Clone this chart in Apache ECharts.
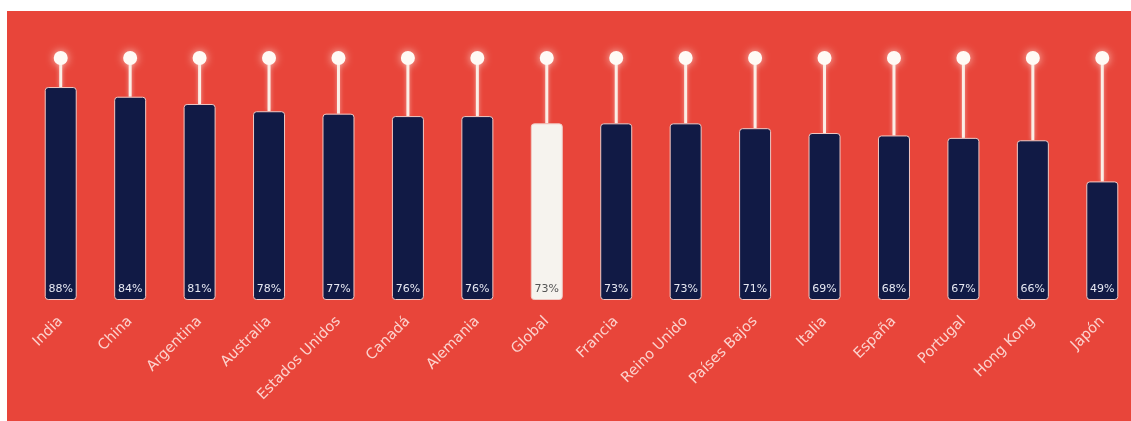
<!DOCTYPE html>
<html><head><meta charset="utf-8">
<script src="https://cdn.jsdelivr.net/npm/echarts@6/dist/echarts.min.js"></script>
<style>
html,body{margin:0;padding:0;background:#fff;width:1131px;height:421px;overflow:hidden;position:relative;}
#c{position:absolute;left:7px;top:11px;width:1140px;height:410px;}
</style></head>
<body><div id="c"></div>
<script>
var categories = ["India","China","Argentina","Australia","Estados Unidos","Canadá","Alemania","Global","Francia","Reino Unido","Países Bajos","Italia","España","Portugal","Hong Kong","Japón"];
var values = [88,84,81,78,77,76,76,73,73,73,71,69,68,67,66,49];
var highlight = "Global";
var maxValue = 100;

var chart = echarts.init(document.getElementById('c'));
var barData = values.map(function(v,i){
  var isG = categories[i] === highlight;
  return {
    value: v,
    itemStyle: { color: isG ? '#f6f3ee' : '#111a45' },
    label: { color: isG ? '#555' : '#e6e8f2' }
  };
});
var stickData = values.map(function(v,i){ return [i, v]; });

chart.setOption({
  backgroundColor: '#e8453a',
  animation: false,
  grid: { left: 19, top: 47, bottom: 121, width: 1111 },
  xAxis: {
    type: 'category', data: categories,
    axisLine: { show: false }, axisTick: { show: false },
    axisLabel: { rotate: 45, margin: 19, color: 'rgba(255,235,232,0.85)', fontFamily: 'DejaVu Sans', fontSize: 14.5, interval: 0 }
  },
  yAxis: { type: 'value', min: 0, max: maxValue, show: false, splitLine: { show: false } },
  series: [
    {
      type: 'custom',
      data: stickData,
      z: 1,
      renderItem: function(params, api){
        var idx = api.value(0), v = api.value(1);
        var p0 = api.coord([idx, v]);
        var p1 = api.coord([idx, maxValue]);
        return {
          type: 'group',
          children: [
            { type: 'line', shape: { x1: p0[0], y1: p0[1], x2: p1[0], y2: p1[1] },
              style: { stroke: '#fbeee6', lineWidth: 3, shadowBlur: 4, shadowColor: 'rgba(255,255,255,0.5)' } },
            { type: 'circle', shape: { cx: p1[0], cy: p1[1], r: 7 },
              style: { fill: '#fffaf5', shadowBlur: 8, shadowColor: 'rgba(255,230,220,0.8)' } }
          ]
        };
      }
    },
    {
      type: 'bar',
      data: barData,
      barWidth: 32,
      z: 2,
      itemStyle: { borderColor: '#f1c9c4', borderWidth: 1, borderRadius: 3 },
      label: { show: true, position: 'insideBottom', distance: 5, formatter: '{c}%', fontFamily: 'DejaVu Sans', fontSize: 11 }
    }
  ]
});
</script></body></html>
